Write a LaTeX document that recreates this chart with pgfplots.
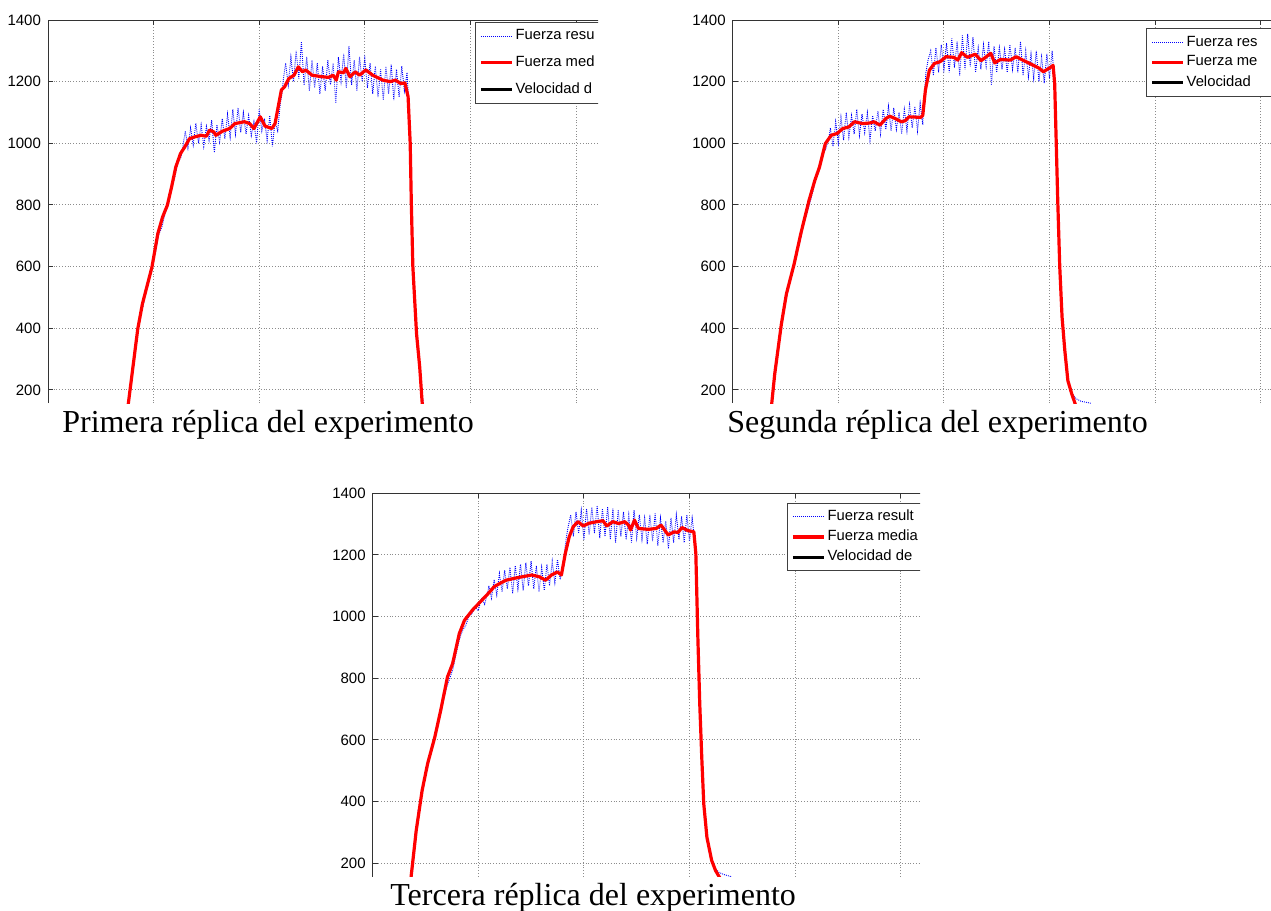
\documentclass[border=0pt]{standalone}
\usepackage{fontspec}
\setmainfont{Liberation Serif}
\newfontfamily\arial{Liberation Sans}
\usepackage{pgfplots}
\pgfplotsset{compat=1.18}

% common look of the three MATLAB panels
\pgfplotsset{
  panel/.style={
    scale only axis, width=290.4pt, height=191.6pt,
    xmin=0, xmax=5.5, ymin=157, ymax=1400,
    axis x line=top, axis y line=left,
    axis line style={-, black!80, line width=0.5pt},
    xtick={1,2,3,4,5}, xticklabels={},
    ytick={200,400,...,1400},
    tick align=inside, major tick length=2.5pt,
    tick style={black!80, line width=0.5pt},
    grid=major, grid style={densely dotted, black!45, line width=0.5pt},
    ticklabel style={font=\arial\fontsize{7.5}{8}\selectfont},
    /pgf/number format/assume math mode=true,
    /pgf/number format/1000 sep={},
    legend cell align=left,
    legend image code/.code={\draw[##1] (0pt,0pt) -- (15.5pt,0pt);},
    legend style={draw=black!75, line width=0.5pt, anchor=north west,
      font=\arial\fontsize{7.4}{8}\selectfont,
      inner xsep=2pt, inner ysep=2.5pt,
      nodes={inner sep=1pt}},
  },
  blueline/.style={blue, line width=0.45pt, dash pattern=on 0.45pt off 0.55pt},
  redline/.style={red, line width=1.6pt, line join=round},
}
% legend text cells are kept wide so that the box runs past the crop edge
\newcommand{\cell}[1]{\makebox[75pt][l]{#1}}

\begin{document}
\begin{tikzpicture}

% ---------------- Primera replica ----------------
\begin{scope}
\clip (0pt,0pt) rectangle (299pt,-201.5pt);
\begin{axis}[panel, at={(24pt,-10pt)}, anchor=north west,
  legend style={at={(rel axis cs:0.735,0.995)}, row sep=4.5pt}]
\addplot[blueline] coordinates {
(0.76,150)(0.80,260)(0.84,370)(0.87,440)(0.90,470)(0.93,530)(0.96,560)(0.99,615)
(1.02,650)(1.05,705)(1.08,730)(1.11,775)(1.14,800)(1.17,855)(1.20,890)(1.23,940)
(1.26,955)(1.28,995)
(1.300,1040)(1.325,985)(1.350,1050)(1.375,995)(1.400,1065)(1.425,1000)(1.450,1060)
(1.475,990)(1.500,1055)(1.525,1010)(1.550,1075)(1.575,970)(1.600,1060)(1.625,1005)
(1.650,1080)(1.675,1015)(1.700,1095)(1.725,1020)(1.750,1110)(1.775,1030)(1.800,1115)
(1.825,1035)(1.850,1100)(1.875,1030)(1.900,1090)(1.925,1025)(1.950,1070)(1.975,1000)
(2.000,1110)(2.025,1040)(2.050,1080)(2.075,1010)(2.100,1090)(2.125,990)(2.150,1070)
(2.175,1040)(2.200,1130)(2.215,1160)(2.230,1210)
(2.250,1260)(2.275,1190)(2.300,1280)(2.325,1200)(2.350,1300)(2.375,1210)(2.400,1330)
(2.425,1190)(2.450,1280)(2.475,1170)(2.500,1270)(2.525,1180)(2.550,1260)(2.575,1160)
(2.600,1250)(2.625,1170)(2.650,1270)(2.675,1190)(2.700,1260)(2.725,1130)(2.750,1280)
(2.775,1200)(2.800,1290)(2.825,1180)(2.850,1315)(2.875,1190)(2.900,1270)(2.925,1170)
(2.950,1280)(2.975,1200)(3.000,1275)(3.025,1180)(3.050,1260)(3.075,1160)(3.100,1250)
(3.125,1150)(3.150,1240)(3.175,1140)(3.200,1250)(3.225,1160)(3.250,1255)(3.275,1140)
(3.300,1240)(3.325,1150)(3.350,1250)(3.375,1170)(3.400,1230)
(3.420,1100)(3.430,950)(3.445,750)(3.460,560)(3.480,420)(3.500,330)(3.520,260)
(3.540,190)(3.560,150)
};
\addlegendentry{\cell{Fuerza resu}}
\addplot[redline] coordinates {
(0.76,154)(0.85,398)(0.894,479)(0.984,598)(1.04,707)(1.085,761)(1.13,799)(1.17,858)
(1.21,923)(1.255,967)(1.295,988)(1.34,1015)(1.39,1021)(1.45,1026)(1.50,1023)
(1.53,1043)(1.57,1037)(1.59,1026)(1.65,1039)(1.72,1048)(1.77,1064)(1.86,1070)
(1.91,1064)(1.95,1048)(2.01,1086)(2.055,1056)(2.12,1048)(2.15,1064)(2.21,1173)
(2.24,1183)(2.28,1210)(2.33,1221)(2.37,1248)(2.41,1232)(2.44,1238)(2.50,1221)
(2.59,1216)(2.66,1214)(2.70,1221)(2.73,1205)(2.75,1232)(2.80,1229)(2.82,1243)
(2.86,1216)(2.91,1232)(2.95,1221)(3.01,1238)(3.075,1221)(3.17,1205)(3.24,1200)
(3.29,1205)(3.34,1194)(3.38,1196)(3.41,1151)(3.43,999)(3.44,815)(3.455,600)
(3.49,382)(3.52,274)(3.545,150)
};
\addlegendentry{\cell{Fuerza med}}
\addlegendimage{black, line width=1.6pt}
\addlegendentry{\cell{Velocidad d}}
\end{axis}
\end{scope}

% ---------------- Segunda replica ----------------
\begin{scope}
\clip (330pt,0pt) rectangle (645pt,-201.5pt);
\begin{axis}[panel, at={(366.35pt,-10pt)}, anchor=north west,
  legend style={at={(rel axis cs:0.7116,0.978)}, row sep=1.3pt}]
\addplot[blueline] coordinates {
(0.37,150)(0.40,240)(0.43,330)(0.46,395)(0.49,475)(0.52,515)(0.55,565)(0.58,595)
(0.61,645)(0.64,685)(0.67,735)(0.70,770)(0.73,805)(0.76,845)(0.79,895)(0.82,910)
(0.85,965)(0.88,980)(0.91,1015)
(0.925,1050)(0.950,990)(0.975,1070)(1.000,1000)(1.025,1085)(1.050,1010)(1.075,1100)
(1.100,1020)(1.125,1090)(1.150,1030)(1.175,1110)(1.200,1025)(1.225,1095)(1.250,1035)
(1.275,1100)(1.300,1010)(1.325,1090)(1.350,1040)(1.375,1105)(1.400,1030)(1.425,1110)
(1.450,1045)(1.475,1120)(1.500,1040)(1.525,1115)(1.550,1045)(1.575,1100)(1.600,1030)
(1.625,1110)(1.650,1040)(1.675,1125)(1.700,1050)(1.725,1120)(1.750,1040)(1.775,1130)
(1.800,1060)(1.815,1160)(1.830,1230)(1.850,1270)
(1.875,1300)(1.900,1220)(1.925,1310)(1.950,1230)(1.975,1320)(2.000,1240)(2.025,1325)
(2.050,1230)(2.075,1340)(2.100,1245)(2.125,1330)(2.150,1220)(2.175,1350)(2.200,1240)
(2.225,1355)(2.250,1250)(2.275,1345)(2.300,1230)(2.325,1310)(2.350,1240)(2.375,1320)
(2.400,1250)(2.425,1330)(2.450,1190)(2.475,1315)(2.500,1230)(2.525,1310)(2.550,1240)
(2.575,1305)(2.600,1230)(2.625,1320)(2.650,1240)(2.675,1310)(2.700,1230)(2.725,1330)
(2.750,1220)(2.775,1300)(2.800,1215)(2.825,1290)(2.850,1210)(2.875,1300)(2.900,1200)
(2.925,1280)(2.950,1195)(2.975,1290)(3.000,1210)(3.025,1300)(3.040,1230)
(3.050,1150)(3.065,980)(3.080,800)(3.100,600)(3.120,430)(3.145,320)(3.175,225)
(3.210,190)(3.250,172)(3.300,163)(3.350,160)(3.400,156)
};
\addlegendentry{\cell{Fuerza res}}
\addplot[redline] coordinates {
(0.369,154)(0.398,252)(0.461,414)(0.509,512)(0.582,609)(0.645,707)(0.723,815)
(0.778,880)(0.822,923)(0.877,999)(0.933,1026)(0.988,1032)(1.043,1048)(1.099,1053)
(1.154,1070)(1.228,1064)(1.30,1066)(1.338,1070)(1.394,1059)(1.449,1080)(1.486,1088)
(1.541,1080)(1.596,1070)(1.633,1073)(1.67,1086)(1.781,1084)(1.80,1091)(1.825,1173)
(1.862,1237)(1.91,1259)(1.965,1265)(2.02,1281)(2.094,1279)(2.131,1270)(2.168,1294)
(2.223,1279)(2.297,1289)(2.352,1268)(2.444,1292)(2.481,1261)(2.536,1272)(2.629,1270)
(2.684,1281)(2.758,1268)(2.813,1259)(2.905,1243)(2.942,1232)(3.016,1248)(3.034,1253)
(3.049,1194)(3.064,999)(3.078,815)(3.097,600)(3.119,436)(3.145,328)(3.174,230)
(3.211,187)(3.248,150)
};
\addlegendentry{\cell{Fuerza me}}
\addlegendimage{black, line width=1.6pt}
\addlegendentry{\cell{Velocidad}}
\end{axis}
\end{scope}

% ---------------- Tercera replica ----------------
\begin{scope}
\clip (160pt,-240pt) rectangle (460pt,-438pt);
\begin{axis}[panel, at={(186.35pt,-246.65pt)}, anchor=north west,
  legend style={at={(rel axis cs:0.713,0.976)}, row sep=1.2pt}]
\addplot[blueline] coordinates {
(0.37,150)(0.40,260)(0.43,370)(0.46,420)(0.49,470)(0.52,510)(0.55,560)(0.58,590)
(0.61,640)(0.64,680)(0.67,730)(0.70,770)(0.73,800)(0.76,830)(0.79,880)(0.82,925)
(0.85,955)(0.88,970)(0.91,1000)(0.94,1010)(0.97,1030)(1.00,1020)(1.03,1060)
(1.06,1040)(1.09,1080)
(1.100,1100)(1.125,1060)(1.150,1120)(1.175,1070)(1.200,1140)(1.225,1080)(1.250,1150)
(1.275,1090)(1.300,1160)(1.325,1075)(1.350,1165)(1.375,1090)(1.400,1170)(1.425,1085)
(1.450,1175)(1.475,1100)(1.500,1180)(1.525,1090)(1.550,1165)(1.575,1080)(1.600,1160)
(1.625,1085)(1.650,1170)(1.675,1100)(1.700,1180)(1.725,1110)(1.750,1185)(1.775,1120)
(1.800,1170)(1.815,1200)(1.830,1250)(1.850,1290)
(1.875,1330)(1.900,1260)(1.925,1340)(1.950,1270)(1.975,1345)(2.000,1250)(2.025,1350)
(2.050,1265)(2.075,1355)(2.100,1270)(2.125,1360)(2.150,1255)(2.175,1350)(2.200,1260)
(2.225,1355)(2.250,1250)(2.275,1350)(2.300,1240)(2.325,1345)(2.350,1260)(2.375,1340)
(2.400,1250)(2.425,1330)(2.450,1240)(2.475,1345)(2.500,1255)(2.525,1330)(2.550,1250)
(2.575,1320)(2.600,1235)(2.625,1330)(2.650,1245)(2.675,1335)(2.700,1230)(2.725,1320)
(2.750,1240)(2.775,1310)(2.800,1220)(2.825,1320)(2.850,1240)(2.875,1330)(2.900,1250)
(2.925,1325)(2.950,1240)(2.975,1330)(3.000,1245)(3.025,1320)(3.045,1260)
(3.060,1150)(3.075,950)(3.090,760)(3.110,580)(3.130,420)(3.160,300)(3.190,230)
(3.230,190)(3.280,170)(3.330,163)(3.400,156)
};
\addlegendentry{\cell{Fuerza result}}
\addplot[redline] coordinates {
(0.363,154)(0.412,306)(0.468,436)(0.52,523)(0.588,609)(0.644,696)(0.708,804)
(0.757,848)(0.82,945)(0.869,988)(0.944,1021)(1.019,1048)(1.094,1075)(1.15,1097)
(1.206,1108)(1.262,1118)(1.337,1124)(1.412,1129)(1.506,1135)(1.58,1129)(1.637,1118)
(1.693,1135)(1.749,1145)(1.787,1135)(1.824,1205)(1.861,1259)(1.899,1292)(1.944,1308)
(1.993,1294)(2.049,1303)(2.124,1308)(2.18,1311)(2.217,1294)(2.273,1308)(2.33,1302)
(2.386,1308)(2.423,1297)(2.442,1281)(2.479,1313)(2.517,1286)(2.61,1283)(2.685,1286)
(2.73,1297)(2.798,1265)(2.854,1275)(2.891,1273)(2.929,1289)(2.985,1279)(3.041,1275)
(3.06,1205)(3.079,934)(3.097,718)(3.116,544)(3.135,393)(3.165,284)(3.21,209)
(3.247,176)(3.292,150)
};
\addlegendentry{\cell{Fuerza media}}
\addlegendimage{black, line width=1.6pt}
\addlegendentry{\cell{Velocidad de}}
\end{axis}
\end{scope}

% captions
\node[anchor=base west, inner sep=0pt, font=\fontsize{16}{19}\selectfont] at (31pt,-216pt) {Primera réplica del experimento};
\node[anchor=base west, inner sep=0pt, font=\fontsize{16}{19}\selectfont] at (363.5pt,-216pt) {Segunda réplica del experimento};
\node[anchor=base west, inner sep=0pt, font=\fontsize{16}{19}\selectfont] at (195pt,-452.5pt) {Tercera réplica del experimento};

\pgfresetboundingbox
\path[use as bounding box] (0pt,0pt) rectangle (635.5pt,-455.5pt);
\end{tikzpicture}
\end{document}
